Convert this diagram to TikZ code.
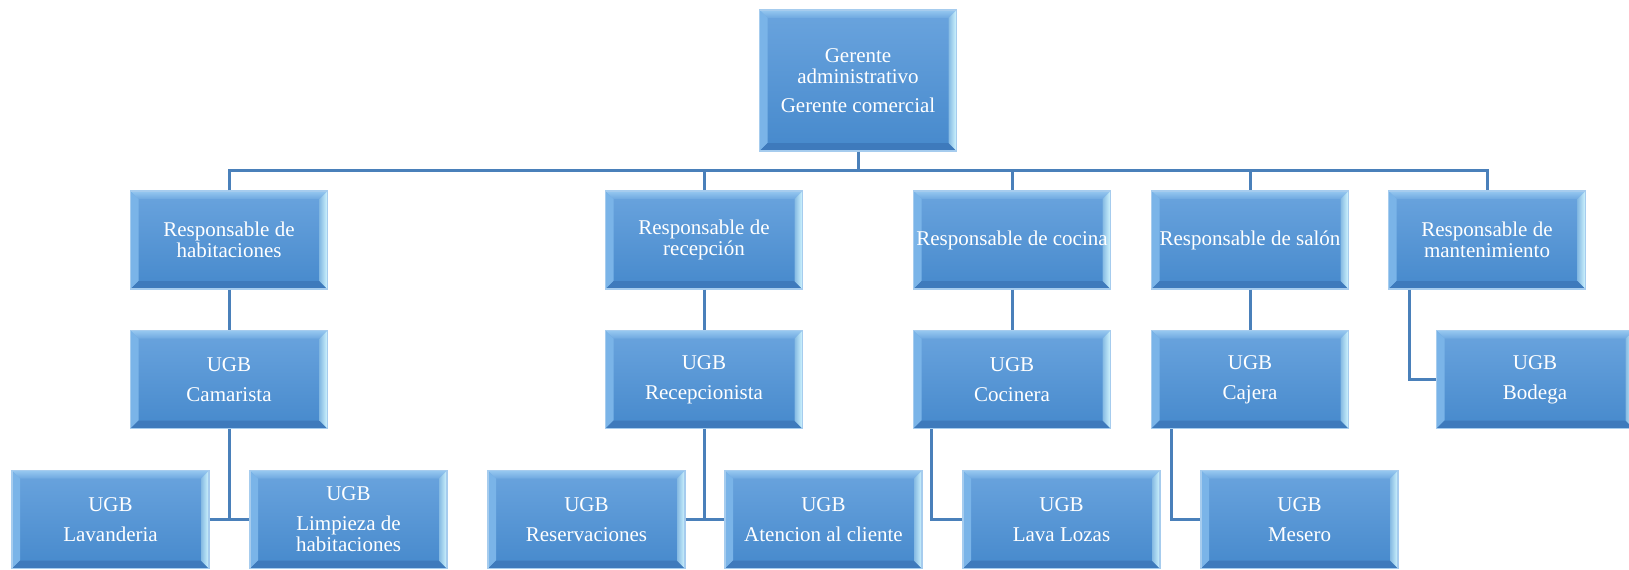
\documentclass[tikz,border=0pt]{standalone}
\usepackage{fontspec}
\setmainfont{Liberation Serif}
\usepackage{xcolor}
\usepackage{tikz}
\usetikzlibrary{positioning}

\definecolor{boxtop}{RGB}{106,164,222}
\definecolor{boxbot}{RGB}{70,137,204}
\definecolor{boxline}{RGB}{166,204,238}
\definecolor{bevtop}{RGB}{150,200,240}
\definecolor{bevleft}{RGB}{122,180,232}
\definecolor{bevright}{RGB}{210,246,255}
\definecolor{bevbot}{RGB}{62,122,188}
\definecolor{linkblue}{RGB}{74,128,186}

\begin{document}
\begin{tikzpicture}[x=0.5pt, y=-0.5pt]
        \tikzset{
            unit/.style={
                minimum width=98.5pt,
                minimum height=49pt,
                inner sep=1pt,
                top color=boxtop, bottom color=boxbot,
                draw=boxline, line width=0.6pt,
                text=white, align=center,
                font=\fontsize{10.5}{10.5}\selectfont,
                path picture={
                    \path (path picture bounding box.north west) coordinate (p1)
                          (path picture bounding box.north east) coordinate (p2)
                          (path picture bounding box.south east) coordinate (p3)
                          (path picture bounding box.south west) coordinate (p4);
                    \shade[top color=bevtop, bottom color=boxtop!90!bevtop] (p1) -- (p2) -- ([shift={(-4pt,-4pt)}]p2) -- ([shift={(4pt,-4pt)}]p1) -- cycle;
                    \fill[bevleft] (p1) -- ([shift={(4pt,-4pt)}]p1) -- ([shift={(4pt,4pt)}]p4) -- (p4) -- cycle;
                    \fill[bevbot] (p4) -- ([shift={(4pt,4pt)}]p4) -- ([shift={(-4pt,4pt)}]p3) -- (p3) -- cycle;
                    \shade[left color=boxbot!55!bevright, right color=bevright] (p2) -- (p3) -- ([shift={(-4pt,4pt)}]p3) -- ([shift={(-4pt,-4pt)}]p2) -- cycle;
                }
            },
            link/.style={draw=linkblue, line width=1.5pt}
        }
        \clip (0,0) rectangle (1629,569);

        % top
        \node[unit, minimum height=70.5pt] (ger) at (858,80.5) {Gerente\\administrativo\\[4pt]Gerente comercial};

        % responsables
        \node[unit] (hab) at (229,240) {Responsable de\\habitaciones};
        \node[unit] (rec) at (704,240) {Responsable de\\recepción};
        \node[unit] (coc) at (1012,240) {Responsable de cocina};
        \node[unit] (sal) at (1250,240) {Responsable de salón};
        \node[unit] (man) at (1487,240) {Responsable de\\mantenimiento};

        % UGB
        \node[unit] (cam) at (229,379.5) {UGB\\[4.5pt]Camarista};
        \node[unit] (rcp) at (704,379.5) {UGB\\[4.5pt]Recepcionista};
        \node[unit] (cna) at (1012,379.5) {UGB\\[4.5pt]Cocinera};
        \node[unit] (caj) at (1250,379.5) {UGB\\[4.5pt]Cajera};
        \node[unit] (bod) at (1535,379.5) {UGB\\[4.5pt]Bodega};

        \node[unit] (lav) at (110.5,519.5) {UGB\\[4.5pt]Lavanderia};
        \node[unit] (lim) at (348.5,519.5) {UGB\\[4.5pt]Limpieza de\\habitaciones};
        \node[unit] (res) at (586.5,519.5) {UGB\\[4.5pt]Reservaciones};
        \node[unit] (ate) at (823.5,519.5) {UGB\\[4.5pt]Atencion al cliente};
        \node[unit] (lva) at (1061.5,519.5) {UGB\\[4.5pt]Lava Lozas};
        \node[unit] (mes) at (1299.5,519.5) {UGB\\[4.5pt]Mesero};

        % connectors
        \coordinate (bar) at (858,170);
        \draw[link] (ger) -- (bar);
        \draw[link] (hab.north) |- (bar) -| (man.north);
        \foreach \n in {rec,coc,sal}
            \draw[link] (bar -| \n.north) -- (\n.north);
        \foreach \a/\b in {hab/cam,rec/rcp,coc/cna,sal/caj}
            \draw[link] (\a) -- (\b);
        \draw[link] ([xshift=11pt]man.south west) |- (bod.west);

        \draw[link] (cam) -- (cam |- lav.east);
        \draw[link] (lav.east) -- (lim.west);
        \draw[link] (rcp) -- (rcp |- res.east);
        \draw[link] (res.east) -- (ate.west);
        \draw[link] ([xshift=9.5pt]cna.south west) |- (lva.west);
        \draw[link] ([xshift=10.5pt]caj.south west) |- (mes.west);
\end{tikzpicture}
\end{document}
